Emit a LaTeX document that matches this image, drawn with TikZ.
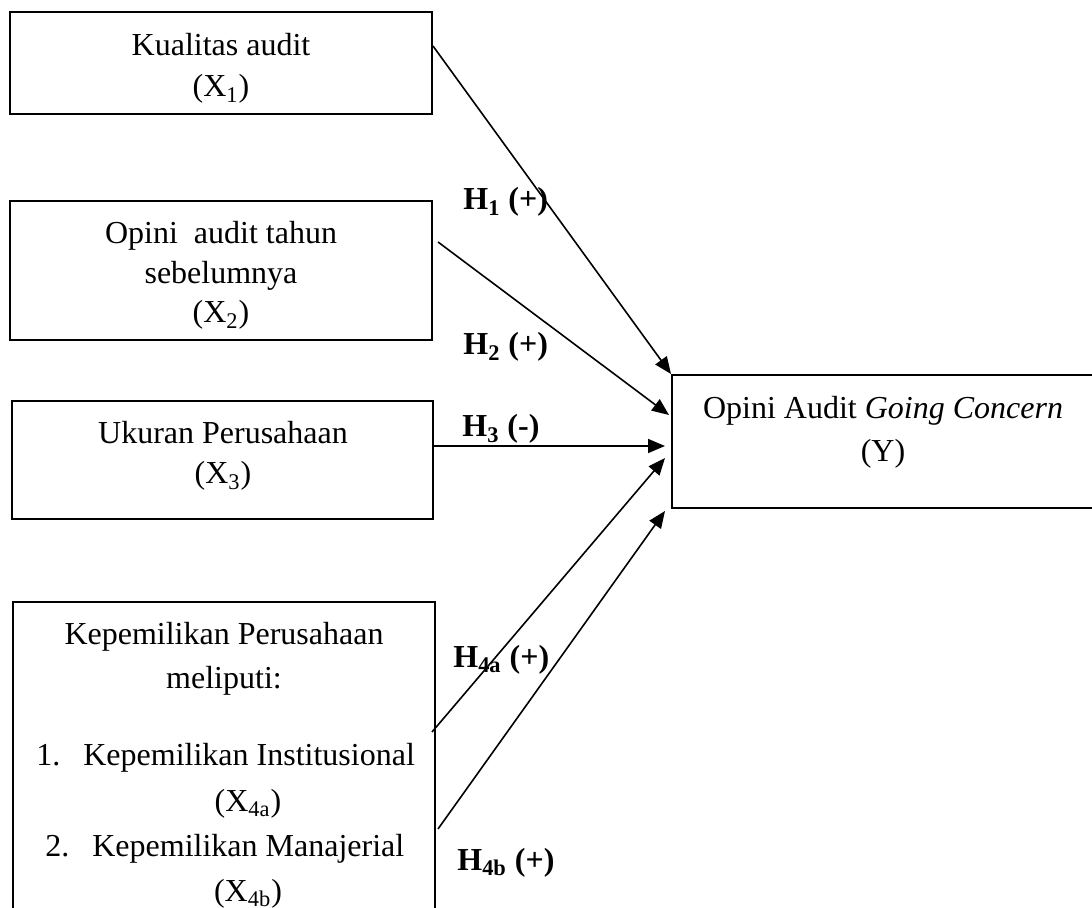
\documentclass[tikz,border=0pt]{standalone}
\usepackage{fontspec}
\setmainfont{Liberation Serif}
\usetikzlibrary{arrows.meta}
\begin{document}
\begin{tikzpicture}[x=0.5pt,y=-0.5pt,
  box/.style={draw, line width=1pt, rectangle, inner sep=0pt},
  txt/.style={anchor=base, inner sep=0pt, font=\fontsize{16}{20}\selectfont},
  txtw/.style={anchor=base west, inner sep=0pt, font=\fontsize{16}{20}\selectfont},
  hlab/.style={anchor=base west, inner sep=0pt, font=\fontsize{16}{20}\selectfont\bfseries},
  conn/.style={line width=0.8pt, -{Triangle[length=8.5pt,width=7pt]}}]
\clip (0,0) rectangle (1092,908);
% boxes
\node[box, minimum width=211pt, minimum height=51pt] (b1) at (221,63) {};
\node[box, minimum width=211pt, minimum height=69.5pt] (b2) at (221,270.5) {};
\node[box, minimum width=210.5pt, minimum height=59pt] (b3) at (222.5,460) {};
\node[box, minimum width=211pt, minimum height=164pt] (b4) at (224,766) {};
\node[box, minimum width=211.5pt, minimum height=66.5pt] (Y) at (883.5,441.5) {};
% texts
\node[txt] (t1a) at (221,56) {Kualitas audit};
\node[txt] (t1b) at (221,97) {(X\textsubscript{1})};
\node[txt] (t2a) at (221,244) {Opini~ audit tahun};
\node[txt] (t2b) at (221,284) {sebelumnya};
\node[txt] (t2c) at (221,323) {(X\textsubscript{2})};
\node[txt] (t3a) at (223,444) {Ukuran Perusahaan};
\node[txt] (t3b) at (223,484) {(X\textsubscript{3})};
\node[txt] (t4a) at (224,645) {Kepemilikan Perusahaan};
\node[txt] (t4b) at (224,688) {meliputi:};
\node[txtw] (t4c) at (36,765) {\makebox[23.5pt][l]{1.}Kepemilikan Institusional};
\node[txt] (t4d) at (248,811) {(X\textsubscript{4a})};
\node[txtw] (t4e) at (45,856) {\makebox[23.5pt][l]{2.}Kepemilikan Manajerial};
\node[txt] (t4f) at (248,901) {(X\textsubscript{4b})};
\node[txt] (tya) at (883,419) {Opini Audit \textit{Going Concern}};
\node[txt] (tyb) at (883,462) {(Y)};
% connectors
\draw[conn] ([yshift=-17.5pt]b1.north east) -- (Y.north west);
\draw[conn] ([xshift=2.5pt,yshift=-21pt]b2.north east) -- ([xshift=-1pt,yshift=-20.5pt]Y.north west);
\draw[conn] ([xshift=-1pt,yshift=-23pt]b3.north east) -- ([xshift=-3pt,yshift=-36pt]Y.north west);
\draw[conn] ([xshift=-2pt,yshift=-65.5pt]b4.north east) -- ([xshift=-3pt,yshift=-42pt]Y.north west);
\draw[conn] ([xshift=1pt,yshift=-114pt]b4.north east) -- ([xshift=-3pt,yshift=-1pt]Y.south west);
% labels
\node[hlab] (h1) at (463,210) {H\textsubscript{1} (+)};
\node[hlab] (h2) at (463,355) {H\textsubscript{2} (+)};
\node[hlab] (h3) at (462,437) {H\textsubscript{3} (-)};
\node[hlab] (h4a) at (453,667) {H\textsubscript{4a} (+)};
\node[hlab] (h4b) at (457,870) {H\textsubscript{4b} (+)};
\end{tikzpicture}
\end{document}
